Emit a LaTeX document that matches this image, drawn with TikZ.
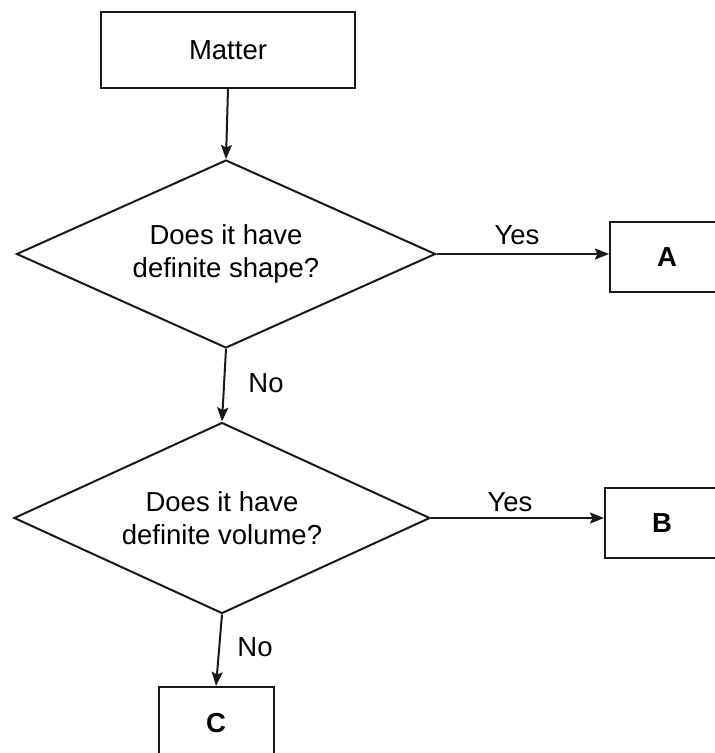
\documentclass[tikz,border=0pt]{standalone}
\usepackage{fontspec}
\setmainfont{Liberation Sans}
\usetikzlibrary{shapes.geometric,arrows.meta}
\begin{document}
\begin{tikzpicture}[x=1pt,y=-1pt,
  every node/.style={font=\fontsize{27.5}{33}\selectfont},
  flowline/.style={line width=2pt,draw=black!90},
  arrowline/.style={flowline,-{Stealth[length=14pt,width=11pt,inset=2.5pt]}},
  procbox/.style={draw=black!90,line width=2pt,rectangle,inner sep=0pt},
  decision/.style={draw=black!90,line width=2pt,diamond,aspect=2.2,inner sep=0pt,align=center},
  lbl/.style={inner sep=0pt}
]
\useasboundingbox (0,0) rectangle (715,753);
\clip (0,0) rectangle (715,753);
\node[procbox,minimum width=254pt,minimum height=76pt] (matter) at (228,50) {Matter};
\node[decision,minimum width=419pt,minimum height=188pt] (d1) at (226,254) {Does it have\\definite shape?};
\node[procbox,minimum width=114pt,minimum height=70pt] (a) at (667,257) {\bfseries A};
\node[decision,minimum width=416pt,minimum height=191pt] (d2) at (222,518) {Does it have\\definite volume?};
\node[procbox,minimum width=114pt,minimum height=70pt] (b) at (662,523) {\bfseries B};
\node[procbox,minimum width=115pt,minimum height=72pt] (c) at (216,723) {\bfseries C};
\draw[arrowline] (matter.south) -- (d1.north);
\draw[arrowline] (d1.east) -- (a.west |- d1.east);
\draw[arrowline] (d1.south) -- (d2.north);
\draw[arrowline] (d2.east) -- (b.west |- d2.east);
\draw[arrowline] (d2.south) -- (c.north);
\node[lbl] (yes1) at (517,235) {Yes};
\node[lbl] (no1) at (266,383) {No};
\node[lbl] (yes2) at (510,502) {Yes};
\node[lbl] (no2) at (255,647) {No};
\end{tikzpicture}
\end{document}
